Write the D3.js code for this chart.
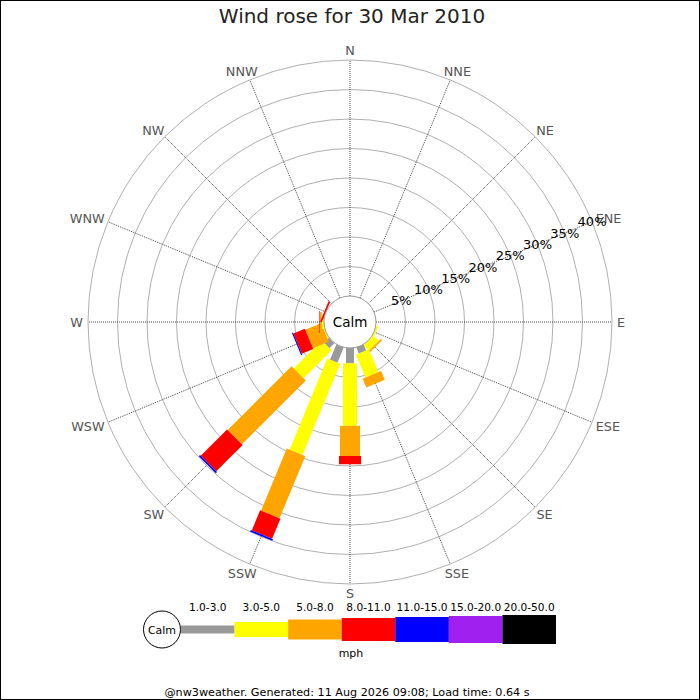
<!DOCTYPE html>
<html>
<head>
<meta charset="utf-8">
<script src="https://cdn.jsdelivr.net/npm/d3@7"></script>
<style>
  body { margin: 0; background: #fff; }
  svg { display: block; font-family: "DejaVu Sans", sans-serif; }
</style>
</head>
<body>
<div id="main"></div>
<script>
// compass points, clockwise from north
var directions = ["N","NNE","NE","ENE","E","ESE","SE","SSE","S","SSW","SW","WSW","W","WNW","NW","NNW"];
// speed bins (mph)
var speedBins = ["1.0-3.0","3.0-5.0","5.0-8.0","8.0-11.0","11.0-15.0","15.0-20.0","20.0-50.0"];
// % of time per direction, one array per speed bin (order = directions)
var bin1to3   = [0,0,0,0,0,0,0,1.1,2.6,2.8,1.2,0,0,0,0,0];
var bin3to5   = [0,0,0,0,0,0.3,1.3,4.2,10.6,16.7,6.7,0.2,0.4,0,0,0];
var bin5to8   = [0,0,0,0,0,0,0.3,1.6,5.1,11.4,15.3,2.9,0.3,0,0,0];
var bin8to11  = [0,0,0,0,0,0,0,0,1.4,3.7,6.3,2.1,0.1,0.3,0,0];
var bin11to15 = [0,0,0,0,0,0,0,0,0,0.3,0.3,0.2,0,0,0,0];
var bin15to20 = [0,0,0,0,0,0,0,0,0,0,0,0,0,0,0,0];
var bin20to50 = [0,0,0,0,0,0,0,0,0,0,0,0,0,0,0,0];
var ringTicks = [5,10,15,20,25,30,35,40];
var ringLabels = ["5%","10%","15%","20%","25%","30%","35%","40%"];

var title = "Wind rose for 30 Mar 2010";
var footer = "@nw3weather. Generated: 11 Aug 2026 09:08; Load time: 0.64 s";

// styling
var binColours = ["#999999","#ffff00","#ffa500","#ff0000","#0000ff","#a020f0","#000000"];
var barWidths  = [8,14,20,22,24,26,28];
var legWidths  = [8,15,20,23,25,27,29];

var ctx = {w: 700, h: 700, cx: 350, cy: 322, r0: 26, r1: 262};

var svg = d3.select("#main").append("svg")
    .attr("width", ctx.w).attr("height", ctx.h);

svg.append("rect").attr("x", 0.5).attr("y", 0.5)
   .attr("width", ctx.w - 1).attr("height", ctx.h - 1)
   .attr("fill", "#fff").attr("stroke", "#000");

svg.append("text")
   .attr("x", 352).attr("y", 23)
   .attr("text-anchor", "middle")
   .attr("font-size", 20).attr("fill", "#222")
   .text(title);

// radius scale: % -> px
var rScale = d3.scaleLinear().domain([0, 40]).range([ctx.r0, ctx.r1]);
var angle = d3.scalePoint().domain(directions).range([0, 360 - 22.5]);

var rose = svg.append("g").attr("transform", `translate(${ctx.cx},${ctx.cy})`);

// rings
rose.selectAll("circle.ring").data(ringTicks).enter()
    .append("circle").attr("class", "ring")
    .attr("r", d => rScale(d))
    .attr("fill", "none").attr("stroke", "#b0b0b0").attr("stroke-width", 1);

// spokes
var rad = d => angle(d) * Math.PI / 180;
rose.selectAll("line.spoke").data(directions).enter()
    .append("line").attr("class", "spoke")
    .attr("x1", d => rScale(0) * Math.sin(rad(d)))
    .attr("y1", d => -rScale(0) * Math.cos(rad(d)))
    .attr("x2", d => rScale(40) * Math.sin(rad(d)))
    .attr("y2", d => -rScale(40) * Math.cos(rad(d)))
    .attr("stroke", "#444").attr("stroke-width", 1)
    .attr("stroke-dasharray", "1,1");

// direction labels, box pulled towards the centre
var labR = ctx.r1 + 5, capH = 9.3;
rose.selectAll("text.dir").data(directions).enter()
    .append("text").attr("class", "dir")
    .attr("font-size", 12.8).attr("fill", "#555")
    .text(d => d)
    .each(function(d){
        var s = Math.sin(rad(d)), c = Math.cos(rad(d));
        var x = labR * s, y = -labR * c;
        var w = this.getComputedTextLength();
        d3.select(this)
          .attr("x", x - w * (1 - s) / 2)
          .attr("y", y - capH * (1 + c) / 2 + capH);
    });

// stacked bars
var series = [bin1to3, bin3to5, bin5to8, bin8to11, bin11to15, bin15to20, bin20to50];
var segs = [];
directions.forEach(function(dir, i){
    var cum = 0;
    series.forEach(function(vals, b){
        var v = vals[i];
        if (v > 0) segs.push({dir: dir, bin: b, from: cum, to: cum + v});
        cum += v;
    });
});
rose.selectAll("rect.seg").data(segs).enter()
    .append("rect").attr("class", "seg")
    .attr("transform", d => `rotate(${angle(d.dir)})`)
    .attr("x", d => -barWidths[d.bin] / 2)
    .attr("width", d => barWidths[d.bin])
    .attr("y", d => -rScale(d.to))
    .attr("height", d => rScale(d.to) - rScale(d.from))
    .attr("fill", d => binColours[d.bin]);

// calm circle
rose.append("circle").attr("r", ctx.r0)
    .attr("fill", "#fff").attr("stroke", "#999");
rose.append("text").attr("text-anchor", "middle").attr("y", 5)
    .attr("font-size", 13.5).attr("fill", "#000").text("Calm");

// percentage labels along ENE
var a = angle("ENE") * Math.PI / 180;
rose.selectAll("text.pct").data(ringTicks).enter()
    .append("text").attr("class", "pct")
    .attr("x", d => rScale(d) * Math.sin(a))
    .attr("y", d => -rScale(d) * Math.cos(a) + 4.7)
    .attr("text-anchor", "middle")
    .attr("font-size", 13).attr("fill", "#000")
    .text((d, i) => ringLabels[i]);

// legend
var leg = svg.append("g");
var legX = d3.scaleBand().domain(speedBins).range([181, 556]);
var legY = 629.5;
leg.selectAll("rect").data(speedBins).enter()
   .append("rect")
   .attr("x", d => legX(d))
   .attr("width", legX.bandwidth())
   .attr("y", (d, i) => legY - legWidths[i] / 2)
   .attr("height", (d, i) => legWidths[i])
   .attr("fill", (d, i) => binColours[i]);
leg.selectAll("text.bin").data(speedBins).enter()
   .append("text").attr("class", "bin")
   .attr("x", d => legX(d) + legX.bandwidth() / 2)
   .attr("y", 611)
   .attr("text-anchor", "middle")
   .attr("font-size", 10.6).attr("fill", "#000")
   .text(d => d);
leg.append("circle").attr("cx", 162).attr("cy", legY).attr("r", 18.5)
   .attr("fill", "#fff").attr("stroke", "#000");
leg.append("text").attr("x", 162).attr("y", legY + 4)
   .attr("text-anchor", "middle").attr("font-size", 11).text("Calm");
leg.append("text").attr("x", 351).attr("y", 657)
   .attr("text-anchor", "middle").attr("font-size", 11).text("mph");

svg.append("text").attr("x", 347).attr("y", 696)
   .attr("text-anchor", "middle").attr("font-size", 11.2).attr("fill", "#000")
   .text(footer);
</script>
</body>
</html>
